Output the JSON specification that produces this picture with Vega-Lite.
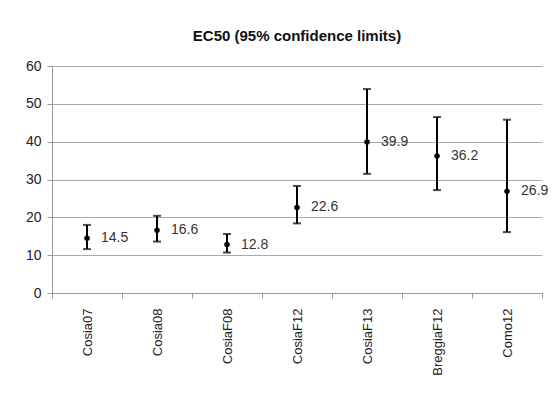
{
  "$schema": "https://vega.github.io/schema/vega-lite/v6.json",
  "autosize": {"type": "none"},
  "width": 490,
  "height": 227,
  "padding": {"left": 52, "top": 66, "right": 15, "bottom": 101},
  "background": "white",
  "title": {
    "text": "EC50 (95% confidence limits)",
    "font": "Liberation Sans",
    "fontSize": 15,
    "fontWeight": "bold",
    "color": "#111",
    "anchor": "middle",
    "offset": 15
  },
  "data": {
    "values": [
      {"site": "Cosia07", "ec50": 14.5, "lo": 11.6, "hi": 18.0},
      {"site": "Cosia08", "ec50": 16.6, "lo": 13.6, "hi": 20.4},
      {"site": "CosiaF08", "ec50": 12.8, "lo": 10.7, "hi": 15.6},
      {"site": "CosiaF12", "ec50": 22.6, "lo": 18.4, "hi": 28.3},
      {"site": "CosiaF13", "ec50": 39.9, "lo": 31.5, "hi": 53.9},
      {"site": "BreggiaF12", "ec50": 36.2, "lo": 27.2, "hi": 46.5},
      {"site": "Como12", "ec50": 26.9, "lo": 16.1, "hi": 45.8}
    ]
  },
  "encoding": {
    "x": {
      "field": "site",
      "type": "nominal",
      "sort": null,
      "title": null,
      "scale": {"paddingInner": 0, "paddingOuter": 0},
      "axis": {
        "labelAngle": -90,
        "labelAlign": "right",
        "labelBaseline": "middle",
        "labelFont": "Liberation Sans",
        "labelFontSize": 13,
        "labelColor": "#222",
        "labelPadding": 10,
        "domainColor": "#999",
        "tickColor": "#999",
        "tickSize": 5,
        "tickBand": "extent",
        "grid": false
      }
    }
  },
  "layer": [
    {
      "mark": {"type": "rule", "color": "black", "strokeWidth": 2},
      "encoding": {
        "y": {
          "field": "lo",
          "type": "quantitative",
          "title": null,
          "scale": {"domain": [0, 60]},
          "axis": {"values": [0, 10, 20, 30, 40, 50, 60]}
        },
        "y2": {"field": "hi"}
      }
    },
    {
      "mark": {"type": "tick", "color": "black", "size": 8, "thickness": 2},
      "encoding": {"y": {"field": "lo", "type": "quantitative", "title": null, "axis": {"values": [0, 10, 20, 30, 40, 50, 60]}}}
    },
    {
      "mark": {"type": "tick", "color": "black", "size": 8, "thickness": 2},
      "encoding": {"y": {"field": "hi", "type": "quantitative", "title": null, "axis": {"values": [0, 10, 20, 30, 40, 50, 60]}}}
    },
    {
      "mark": {"type": "point", "filled": true, "color": "black", "size": 30, "opacity": 1},
      "encoding": {"y": {"field": "ec50", "type": "quantitative", "title": null, "axis": {"values": [0, 10, 20, 30, 40, 50, 60]}}}
    },
    {
      "mark": {"type": "text", "align": "left", "baseline": "middle", "dx": 14, "font": "Liberation Sans", "fontSize": 14, "color": "#333"},
      "encoding": {
        "y": {"field": "ec50", "type": "quantitative", "title": null, "axis": {"values": [0, 10, 20, 30, 40, 50, 60]}},
        "text": {"field": "ec50", "type": "quantitative", "format": ".1f"}
      }
    }
  ],
  "config": {
    "view": {"stroke": null},
    "axisY": {
      "labelFont": "Liberation Sans",
      "labelFontSize": 14,
      "labelColor": "#222",
      "labelPadding": 6,
      "domainColor": "#999",
      "tickColor": "#999",
      "tickSize": 5,
      "gridColor": "#aaa",
      "gridWidth": 1.2
    }
  }
}
